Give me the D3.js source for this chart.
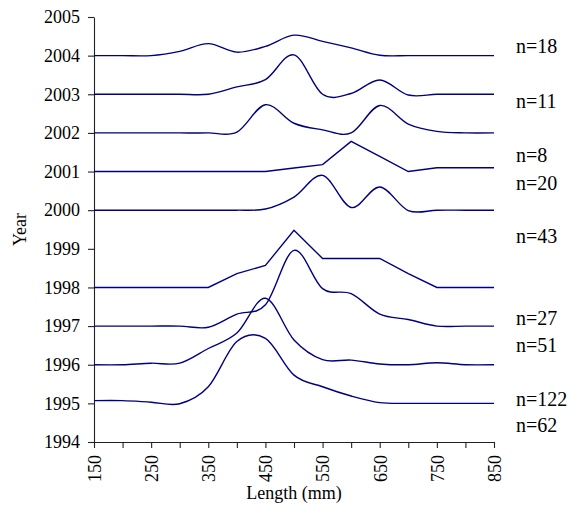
<!DOCTYPE html>
<html>
<head>
<meta charset="utf-8">
<script src="https://cdn.jsdelivr.net/npm/d3@7"></script>
<style>
  body { margin: 0; background: #fff; }
  text { font-family: 'Liberation Serif', 'Times New Roman', serif; fill: #000; }
</style>
</head>
<body>
<script>
// length classes (mm) used by every year
const lengths = [150, 200, 250, 300, 350, 400, 450, 500, 550, 600, 650, 700, 750, 800, 850];

// curve height above each year's baseline, in year units
const y2004 = [0, 0, 0, 0.11, 0.31, 0.09, 0.24, 0.53, 0.37, 0.2, 0.01, 0, 0, 0, 0];
const y2003 = [0, 0, 0, 0, 0, 0.19, 0.38, 1.02, 0, 0.02, 0.37, -0.02, 0, 0, 0];
const y2002 = [0, 0, 0, 0, 0, 0.02, 0.73, 0.25, 0.08, 0, 0.71, 0.23, 0.04, 0, 0];
const y2001 = [0, 0, 0, 0, 0, 0, 0, 0.09, 0.18, 0.78, 0.39, 0, 0.1, 0.1, 0.1];
const y2000 = [0, 0, 0, 0, 0, 0, 0.03, 0.34, 0.9, 0.07, 0.6, -0.01, 0, 0, 0];
const y1998 = [0, 0, 0, 0, 0, 0.36, 0.57, 1.48, 0.75, 0.75, 0.75, 0.36, 0, 0, 0];
const y1997 = [0, 0, 0, 0, -0.03, 0.31, 0.55, 1.96, 0.97, 0.84, 0.31, 0.17, 0, 0, 0];
const y1996 = [0, 0, 0.04, 0.04, 0.42, 0.82, 1.72, 0.64, 0.13, 0.12, 0.02, 0, 0.05, 0, 0];
const y1995 = [0.07, 0.07, 0.03, -0.01, 0.43, 1.6, 1.68, 0.73, 0.43, 0.19, 0.02, 0, 0, 0, 0];

const years = [2004, 2003, 2002, 2001, 2000, 1998, 1997, 1996, 1995];
const heights = [y2004, y2003, y2002, y2001, y2000, y1998, y1997, y1996, y1995];
const smoothed = [true, true, true, false, true, false, true, true, true];

// sample sizes written at the right, with the year level they sit at
const nLabels = ['n=18', 'n=11', 'n=8', 'n=20', 'n=43', 'n=27', 'n=51', 'n=122', 'n=62'];
const nLabelAt = [2004.06, 2002.64, 2001.24, 2000.52, 1999.15, 1997.03, 1996.33, 1994.94, 1994.27];

const svgWidth = 572, svgHeight = 505;
const margin = { top: 17, right: 78, bottom: 63, left: 94 };
const width = svgWidth - margin.left - margin.right;
const height = svgHeight - margin.top - margin.bottom;

const svg = d3.select('body')
  .append('svg')
  .attr('width', svgWidth)
  .attr('height', svgHeight);

const g = svg.append('g')
  .attr('transform', `translate(${margin.left}, ${margin.top})`);

const xScale = d3.scaleLinear()
  .domain([150, 850])
  .range([0, width]);

const yScale = d3.scaleLinear()
  .domain([1994, 2005])
  .range([height, 0]);

const xAxis = d3.axisBottom(xScale)
  .tickValues(lengths)
  .tickFormat(d => (d - 150) % 100 === 0 ? d : '')
  .tickSize(6)
  .tickSizeOuter(0);

const yAxis = d3.axisLeft(yScale)
  .tickValues(d3.range(1994, 2006))
  .tickFormat(d3.format('d'))
  .tickSize(6)
  .tickPadding(8)
  .tickSizeOuter(0);

const gx = g.append('g')
  .attr('transform', `translate(0, ${height})`)
  .call(xAxis);

gx.selectAll('text')
  .attr('transform', 'rotate(-90)')
  .attr('text-anchor', 'end')
  .attr('x', -13)
  .attr('y', 0)
  .attr('dy', '0.35em');

const gy = g.append('g').call(yAxis);

[gx, gy].forEach(ax => {
  ax.attr('font-size', 18).attr('font-family', null);
  ax.selectAll('path, line').attr('stroke', '#222').attr('stroke-width', 1.1);
});

// one ridge per year
heights.forEach((vals, i) => {
  const line = d3.line()
    .x((_, j) => xScale(lengths[j]))
    .y(v => yScale(years[i] + v))
    .curve(smoothed[i] ? d3.curveCardinal.tension(0) : d3.curveLinear);

  g.append('path')
    .datum(vals)
    .attr('fill', 'none')
    .attr('stroke', '#000080')
    .attr('stroke-width', 1.4)
    .attr('d', line);
});

g.selectAll('.nlab')
  .data(nLabels)
  .enter()
  .append('text')
  .attr('class', 'nlab')
  .attr('x', width + 22)
  .attr('y', (_, i) => yScale(nLabelAt[i]))
  .attr('font-size', 20)
  .text(d => d);

svg.append('text')
  .attr('transform', 'rotate(-90)')
  .attr('x', -(margin.top + height / 2))
  .attr('y', 26)
  .attr('text-anchor', 'middle')
  .attr('font-size', 18)
  .text('Year');

svg.append('text')
  .attr('x', margin.left + width / 2)
  .attr('y', 499)
  .attr('text-anchor', 'middle')
  .attr('font-size', 18)
  .text('Length (mm)');
</script>
</body>
</html>
